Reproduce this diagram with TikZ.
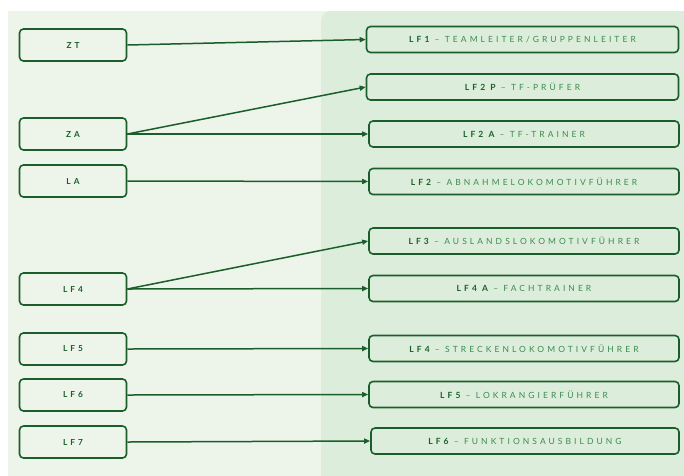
\documentclass[tikz,border=0pt]{standalone}
\usepackage{fontspec}
\setmainfont{Lato}[LetterSpace=36]
\usetikzlibrary{arrows.meta}
\definecolor{dgreen}{HTML}{1B5E2B}
\definecolor{mgreen}{HTML}{3E8A50}
\definecolor{bgleft}{HTML}{EDF5EA}
\definecolor{bgright}{HTML}{DCEEDB}
\begin{document}
\begin{tikzpicture}[x=1pt,y=-1pt,
  lbox/.style={draw=dgreen, line width=1.6pt, rounded corners=4pt, minimum width=107pt, minimum height=32pt, inner sep=0pt, text=dgreen, font=\bfseries\fontsize{8.3}{9}\selectfont},
  rbox/.style={draw=dgreen, line width=1.6pt, rounded corners=4pt, minimum height=26pt, inner sep=0pt, text=mgreen, font=\fontsize{8.5}{9}\selectfont},
  conn/.style={draw=dgreen, line width=1.5pt, -{Triangle[length=6pt,width=5pt]}}]
\useasboundingbox (0,0) rectangle (684,475);
\fill[bgleft] (8,11) rectangle (700,490);
\fill[bgright, rounded corners=10pt] (321,11) rectangle (720,500);
% left nodes
\node[lbox] (zt) at (73,45) {ZT};
\node[lbox] (za) at (73,134) {ZA};
\node[lbox] (la) at (73,181) {LA};
\node[lbox] (lf4) at (73,289) {LF4};
\node[lbox] (lf5) at (73,349) {LF5};
\node[lbox] (lf6) at (73,395) {LF6};
\node[lbox] (lf7) at (73,442) {LF7};
% right nodes
\newcommand{\lfk}[1]{\textbf{\color{dgreen}#1}}
\node[rbox, minimum width=312pt] (r1) at (522.5,39.5) {\lfk{LF1} – TEAMLEITER/GRUPPENLEITER};
\node[rbox, minimum width=312pt] (r2p) at (522.5,87) {\lfk{LF2 P} – TF-PRÜFER};
\node[rbox, minimum width=310pt] (r2a) at (524,134) {\lfk{LF2 A} – TF-TRAINER};
\node[rbox, minimum width=310pt] (r2) at (524,181.5) {\lfk{LF2} – ABNAHMELOKOMOTIVFÜHRER};
\node[rbox, minimum width=310pt] (r3) at (524,241) {\lfk{LF3} – AUSLANDSLOKOMOTIVFÜHRER};
\node[rbox, minimum width=310pt] (r4a) at (524,288.5) {\lfk{LF4 A} – FACHTRAINER};
\node[rbox, minimum width=310pt] (r4) at (524,348.5) {\lfk{LF4} – STRECKENLOKOMOTIVFÜHRER};
\node[rbox, minimum width=310pt] (r5) at (524,394.5) {\lfk{LF5} – LOKRANGIERFÜHRER};
\node[rbox, minimum width=308pt] (r6) at (525,441) {\lfk{LF6} – FUNKTIONSAUSBILDUNG};
% connectors
\draw[conn] (zt.east) -- (r1.west);
\draw[conn] (za.east) -- (r2p.west);
\draw[conn] (za.east) -- (r2a.west);
\draw[conn] (la.east) -- (r2.west);
\draw[conn] (lf4.east) -- (r3.west);
\draw[conn] (lf4.east) -- (r4a.west);
\draw[conn] (lf5.east) -- (r4.west);
\draw[conn] (lf6.east) -- (r5.west);
\draw[conn] (lf7.east) -- (r6.west);
\end{tikzpicture}
\end{document}
